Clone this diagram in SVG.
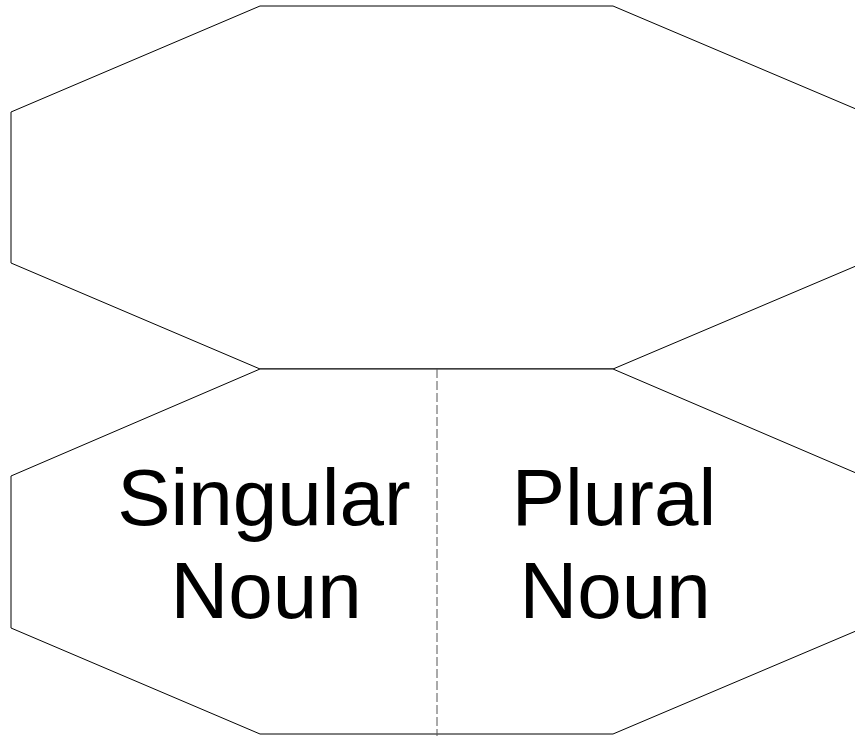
<svg xmlns="http://www.w3.org/2000/svg" width="855" height="736" viewBox="0 0 855 736">
<style>
.oct{fill:#fff;stroke:#000;stroke-width:1}
.lbl{font-family:"Liberation Sans",Arial,sans-serif;font-size:80px;fill:#000;text-anchor:middle}
.div{stroke:#555;stroke-width:1;stroke-dasharray:9 3;fill:none}
</style>
<rect width="855" height="736" fill="#fff"/>
<g id="top-octagon">
<polygon class="oct" points="260,6 613,6 863,112 863,263 613,369 260,369 11,263 11,112"/>
</g>
<g id="bottom-octagon">
<polygon class="oct" points="260,369 613,369 863,476 863,628 613,734 260,734 11,628 11,476"/>
</g>
<g id="connectors">
<line class="div" x1="437" y1="369" x2="437" y2="736"/>
</g>
<g id="singular-noun">
<text class="lbl" x="264" y="525">Singular</text>
<text class="lbl" x="266" y="618">Noun</text>
</g>
<g id="plural-noun">
<text class="lbl" x="614" y="525">Plural</text>
<text class="lbl" x="615" y="618">Noun</text>
</g>
</svg>
